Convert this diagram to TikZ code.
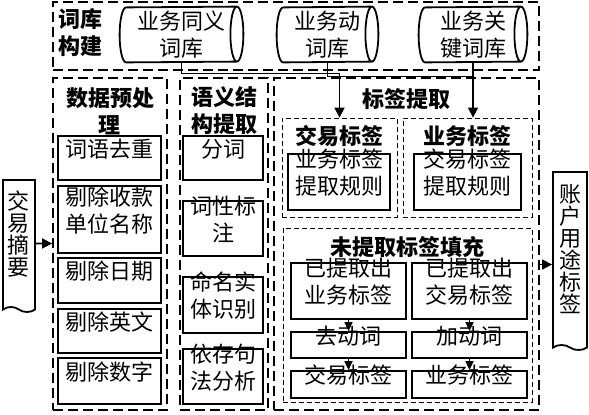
\documentclass[tikz,border=0pt]{standalone}
\usepackage{fontspec}
\setmainfont{Noto Sans CJK SC}
\usetikzlibrary{arrows.meta,calc,positioning,fit,shapes.geometric,shapes.symbols}

\begin{document}
\begin{tikzpicture}[x=0.5pt,y=-0.5pt,font=\fontsize{11}{13.5}\selectfont,
  box/.style={draw,line width=0.9pt,inner sep=0pt,align=center},
  grp/.style={draw,line width=0.9pt,dash pattern=on 5pt off 2.5pt,inner sep=0pt},
  sub/.style={draw,line width=0.4pt,dash pattern=on 2.5pt off 1.5pt,inner sep=0pt},
  lib/.style={minimum height=27.5pt,inner sep=0pt,align=center},
  doc/.style={draw,line width=0.9pt,tape,tape bend top=none,tape bend bottom=out and in,tape bend height=2.5pt,inner sep=0pt,align=center,font=\fontsize{11}{11}\selectfont},
  ttl/.style={font=\fontsize{11}{13.5}\selectfont\bfseries,align=center},
  arr/.style={line width=0.8pt,-{Triangle[length=5pt,width=5pt]}},
  arrs/.style={line width=0.8pt,-{Triangle[length=4.5pt,width=4pt]}}]
  \useasboundingbox (0,0) rectangle (589,414);
  % vocabulary
  \node[grp,fit={(53,2)(539,70)}] (gk) {};
  \node[ttl] (t0) at (80,33) {词库\\构建};
  \node[lib,minimum width=61.5pt] (c1) at (181.5,34.5) {业务同义\\词库};
  \node[lib,minimum width=50.5pt] (c2) at (327.5,34.5) {业务动\\词库};
  \node[lib,minimum width=54pt] (c3) at (473,34.5) {业务关\\键词库};
  \foreach \c in {c1,c2,c3}
    \draw[line width=0.9pt] ([xshift=3.25pt]\c.south west) arc[start angle=270,end angle=90,x radius=3.25pt,y radius=13.75pt]
      -- ([xshift=-3.25pt]\c.north east) arc[start angle=90,end angle=-90,x radius=3.25pt,y radius=13.75pt] -- cycle
      ([xshift=-3.25pt]\c.north east) arc[start angle=90,end angle=270,x radius=3.25pt,y radius=13.75pt];
  % groups
  \node[grp,fit={(53,78)(167,410)}] (g1) {};
  \node[ttl] (t1) at (110,111) {数据预处\\理};
  \node[grp,fit={(180,78)(268,410)}] (g2) {};
  \node[ttl] (t2) at (224,111) {语义结\\构提取};
  \node[grp,fit={(274,78)(539,410)}] (g3) {};
  \node[ttl] (t3) at (406,99) {标签提取};
  \node[sub,fit={(282,118)(397,217)}] (jy) {};
  \node[ttl] (t4) at (339,136) {交易标签};
  \node[sub,fit={(403,118)(532,217)}] (yw) {};
  \node[ttl] (t5) at (467,136) {业务标签};
  \node[sub,fit={(283,228)(532,402)}] (tc) {};
  \node[ttl] (t6) at (407,247) {未提取标签填充};
  % steps
  \foreach \nm/\ya/\yb/\txt in {b1/136/180/{词语去重},b2/186/253/{剔除收款\\单位名称},b3/258/303/{剔除日期},b4/309/353/{剔除英文},b5/358/404/{剔除数字}}
    \node[box,fit={(58,\ya)(161,\yb)}] (\nm) {\txt};
  \foreach \nm/\ya/\yb/\txt in {s1/136/180/{分词},s2/201/256/{词性标\\注},s3/277/333/{命名实\\体识别},s4/349/404/{依存句\\法分析}}
    \node[box,fit={(183,\ya)(263,\yb)}] (\nm) {\txt};
  \node[box,fit={(288,154)(390,210)}] (r1) {业务标签\\提取规则};
  \node[box,fit={(414,154)(521,210)}] (r2) {交易标签\\提取规则};
  \node[box,fit={(291,263)(406,319)}] (f1) {已提取出\\业务标签};
  \node[box,fit={(412,263)(527,319)}] (f2) {已提取出\\交易标签};
  \node[box,fit={(291,332)(406,358)}] (f3) {去动词};
  \node[box,fit={(412,332)(527,358)}] (f4) {加动词};
  \node[box,fit={(291,371)(406,398)}] (f5) {交易标签};
  \node[box,fit={(412,371)(527,398)}] (f6) {业务标签};
  % in and out
  \node[doc,fit={(3,180)(35,307)}] (d1) {交\\易\\摘\\要};
  \node[doc,fit={(553,172)(587,345)}] (d2) {账\\户\\用\\途\\标\\签};
  % connectors
  \draw[arr] (d1) -- (d1 -| g1.west);
  \draw[arr] ($(g3.east |- d2.west)+(0,6)$) -- ($(d2.west)+(0,6)$);
  \draw[arr] (c1.south) -- ++(0,11) -| (jy.north);
  \draw[line width=0.8pt] (c2.south) |- ($(c3.south)+(0,14)$);
  \draw[arr] (c3.south) -- (c3.south |- yw.north);
  \foreach \a/\b in {f1/f3,f3/f5,f2/f4,f4/f6} \draw[arrs] (\a) -- (\b);
\end{tikzpicture}
\end{document}
